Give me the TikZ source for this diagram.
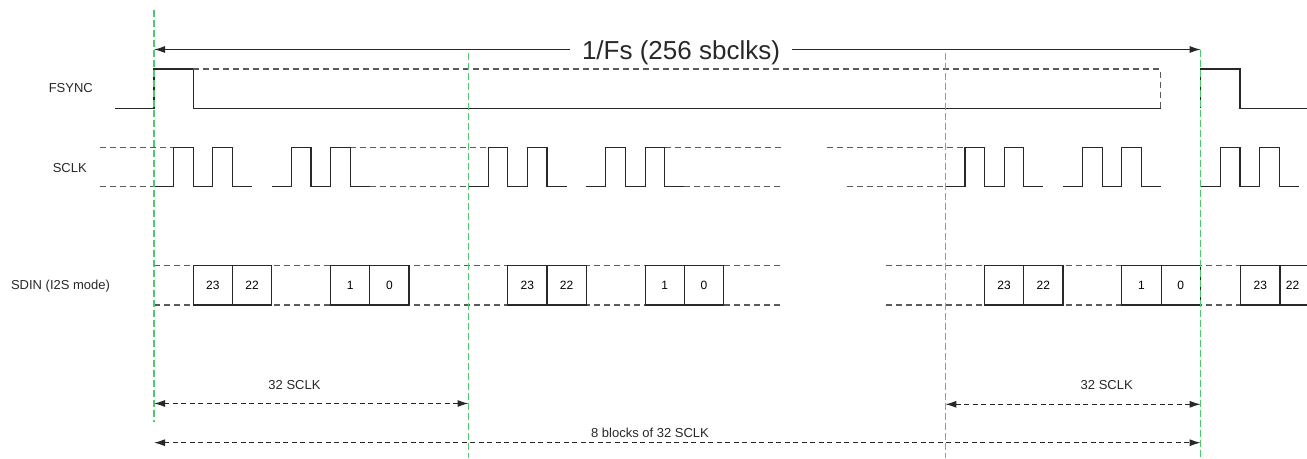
\documentclass[tikz,border=0pt]{standalone}
\usepackage{fontspec}
\setmainfont{Liberation Sans}
\usetikzlibrary{arrows.meta}
\definecolor{sigc}{RGB}{40,40,40}
\definecolor{dashc}{RGB}{90,90,90}
\definecolor{grn}{RGB}{80,200,110}
\tikzset{
 sig/.style={draw=sigc, line width=1.15pt, line join=miter},
 sigdash/.style={draw=dashc, line width=1.2pt, dash pattern=on 6pt off 4pt},
 guide/.style={draw=grn, line width=1.1pt, dash pattern=on 7pt off 3pt},
 bitbox/.style={draw=sigc, line width=1.15pt, minimum width=39.24pt, minimum height=39.3pt, inner sep=0pt, font=\fontsize{12}{14}\selectfont},
 lbl/.style={font=\fontsize{13}{15}\selectfont, anchor=base, inner sep=0pt, text=sigc},
 dimsolid/.style={draw=sigc, line width=1.15pt, {Latex[length=11pt,width=7pt]}-{Latex[length=11pt,width=7pt]}},
 dimdash/.style={draw=sigc, line width=1.15pt, dash pattern=on 5pt off 3.5pt, {Latex[length=11pt,width=7pt]}-{Latex[length=11pt,width=7pt]}},
}
\newcommand\SclkBlk[1]{%
 \begin{scope}[shift={(#1,0)}, x=19.62pt]
  \draw[sig] (0,186.7) -- (1,186.7) -- (1,147.7) -- (2,147.7) -- (2,186.7) -- (3,186.7) -- (3,147.7) -- (4,147.7) -- (4,186.7) -- (5,186.7);
  \draw[sig] (6,186.7) -- (7,186.7) -- (7,147.7) -- (8,147.7) -- (8,186.7) -- (9,186.7) -- (9,147.7) -- (10,147.7) -- (10,186.7) -- (11,186.7);
 \end{scope}}
\newcommand\SdinBlk[2]{%
 \begin{scope}[shift={(#1,0)}, x=19.62pt]
  \node[bitbox] (#2a) at (3,285.35) {23};
  \node[bitbox] (#2b) at (5,285.35) {22};
  \node[bitbox] (#2c) at (10,285.35) {1};
  \node[bitbox] (#2d) at (12,285.35) {0};
 \end{scope}}
\begin{document}
\begin{tikzpicture}[x=1pt, y=-1pt]
\useasboundingbox (0,0) rectangle (1307,458);
% labels
\node[lbl] (lfs) at (70.8,92.5) {FSYNC};
\node[lbl] (lsc) at (69.8,172.5) {SCLK};
\node[lbl] (lsd) at (60.5,289) {SDIN (I2S mode)};
% FSYNC
\draw[sig] (115,108.3) -- (154,108.3) -- (154,69) -- (193.3,69) -- (193.3,108.3) -- (1160.7,108.3);
\draw[sigdash] (193.3,69) -- (1160.7,69) -- (1160.7,108.3);
\draw[sig] (1200.7,108.3) -- (1200.7,69) -- (1240,69) -- (1240,108.3) -- (1307,108.3);
% SCLK dashed
\draw[sigdash] (100,147.7) -- (173.6,147.7);
\draw[sigdash] (100,186.7) -- (154,186.7);
\draw[sigdash] (350.2,147.7) -- (488.1,147.7);
\draw[sigdash] (370,186.7) -- (468.5,186.7);
\draw[sigdash] (664.7,147.7) -- (783.3,147.7);
\draw[sigdash] (684.3,186.7) -- (783.3,186.7);
\draw[sigdash] (826.7,147.7) -- (964.9,147.7);
\draw[sigdash] (846.7,186.7) -- (945.3,186.7);
\SclkBlk{154}
\SclkBlk{468.5}
\SclkBlk{945.3}
\SclkBlk{1200.7}
% SDIN
\draw[sigdash] (154,265.7) -- (783.3,265.7);
\draw[sigdash] (154,305) -- (783.3,305);
\draw[sigdash] (886,265.7) -- (1307,265.7);
\draw[sigdash] (886,305) -- (1307,305);
\SdinBlk{154}{p}
\SdinBlk{468.5}{q}
\SdinBlk{945.3}{r}
\node[bitbox] (sa) at (1260.3,285.35) {23};
\draw[sig] (1280,265.7) -- (1307,265.7);
\draw[sig] (1280,305) -- (1307,305);
\node[font=\fontsize{12}{14}\selectfont, inner sep=0pt] (sb) at (1292.5,285.35) {22};
% top dimension
\coordinate (pL) at (154,49.5);
\coordinate (pR) at (1200.7,49.5);
\draw[dimsolid] (pL) -- (pR);
\node[fill=white, inner xsep=12pt, inner ysep=2pt, anchor=base, font=\fontsize{26}{30}\selectfont, text=sigc] (title) at (681,59.3) {1/Fs (256 sbclks)};
% bottom dimensions
\coordinate (d1L) at (154,403.5);
\coordinate (d1R) at (468.5,403.5);
\draw[dimdash] (d1L) -- (d1R);
\node[lbl] (t1) at (294.5,389.3) {32 SCLK};
\coordinate (d2L) at (945.3,404.3);
\coordinate (d2R) at (1200.7,404.3);
\draw[dimdash] (d2L) -- (d2R);
\node[lbl] (t2) at (1106.7,389.3) {32 SCLK};
\coordinate (d3L) at (154,442.7);
\coordinate (d3R) at (1200.7,442.7);
\draw[dimdash] (d3L) -- (d3R);
\node[lbl] (t3) at (650,437.7) {8 blocks of 32 SCLK};
% green guides
\coordinate (g1t) at (154,10);
\coordinate (g1b) at (154,421.7);
\coordinate (g2t) at (468.5,53.3);
\coordinate (g2b) at (468.5,458);
\coordinate (g3t) at (945.3,53.3);
\coordinate (g3b) at (945.3,458);
\coordinate (g4t) at (1200.7,49.5);
\coordinate (g4b) at (1200.7,458);
\draw[guide] (g1t) -- (g1b);
\draw[guide] (g2t) -- (g2b);
\draw[guide] (g3t) -- (g3b);
\draw[guide] (g4t) -- (g4b);
\end{tikzpicture}
\end{document}
